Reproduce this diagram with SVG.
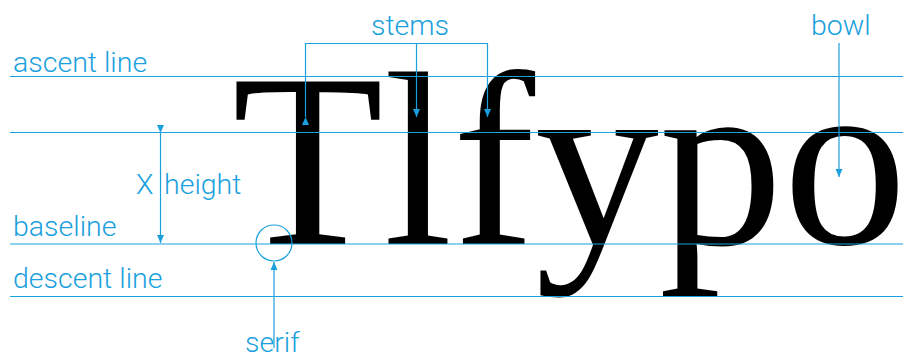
<svg xmlns="http://www.w3.org/2000/svg" width="903" height="356" viewBox="0 0 903 356">
<defs>
<style>
.ln{stroke:#1aa1dd;stroke-width:1.2;fill:none}
.lb{font-family:Roboto,"Liberation Sans",sans-serif;font-weight:300;font-size:28.5px;fill:#1aa1dd}
.big{font-family:"Liberation Serif","Times New Roman",serif;font-size:248px;fill:#000}
</style>
<marker id="ah" viewBox="0 0 8 10" refX="8" refY="5" markerWidth="8" markerHeight="10" markerUnits="userSpaceOnUse" orient="auto">
<path d="M0,1.5 L8,5 L0,8.5 Z" fill="#1aa1dd"/>
</marker>
</defs>
<rect width="903" height="356" fill="#fff"/>
<g id="word"><text class="big" x="232" y="244">Tlfypo</text></g>
<g id="guides">
<line class="ln" x1="10" y1="76.5" x2="903" y2="76.5"/>
<line class="ln" x1="10" y1="132.5" x2="903" y2="132.5"/>
<line class="ln" x1="10" y1="244" x2="903" y2="244"/>
<line class="ln" x1="10" y1="296.5" x2="903" y2="296.5"/>
</g>
<g id="labels">
<text class="lb" x="13" y="72">ascent line</text>
<text class="lb" x="13" y="236">baseline</text>
<text class="lb" x="13" y="288">descent line</text>
<text class="lb" x="136" y="194">X</text>
<text class="lb" x="164" y="194">height</text>
</g>
<g id="stems"><text class="lb" x="371" y="35">stems</text></g>
<g id="bowl"><text class="lb" x="811" y="35">bowl</text></g>
<g id="serif">
<circle class="ln" cx="274" cy="243" r="18"/>
<text class="lb" x="245" y="352">serif</text>
</g>
<g id="connectors">
<line class="ln" x1="160.5" y1="133" x2="160.5" y2="243" marker-start="url(#ah)" marker-end="url(#ah)"/>
<path class="ln" d="M305.5,117 V43.5 H487.5 V117" marker-start="url(#ah)" marker-end="url(#ah)"/>
<line class="ln" x1="416.5" y1="43.5" x2="416.5" y2="117" marker-end="url(#ah)"/>
<line class="ln" x1="839" y1="43" x2="839" y2="177" marker-end="url(#ah)"/>
<line class="ln" x1="274" y1="348" x2="274" y2="262" marker-end="url(#ah)"/>
</g>
</svg>
